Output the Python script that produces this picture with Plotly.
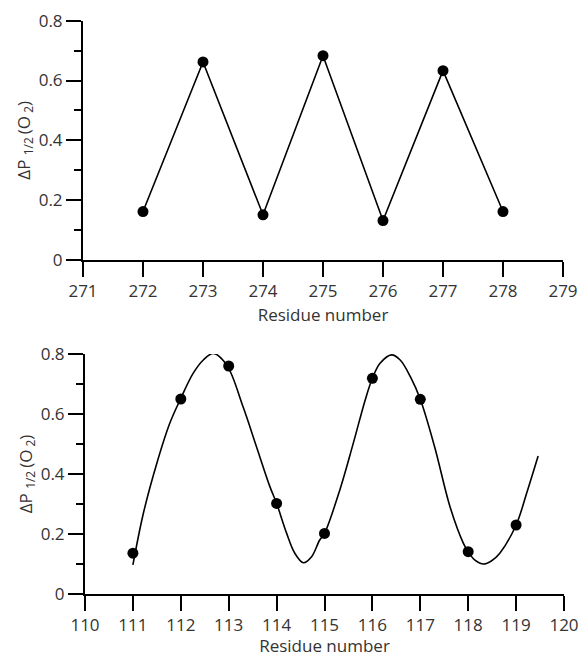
import plotly.graph_objects as go

# ---- data: top panel (residues 271-279) ----
top_residue = [272, 273, 274, 275, 276, 277, 278]
top_dp = [0.162, 0.662, 0.151, 0.683, 0.132, 0.633, 0.162]

# ---- data: bottom panel (residues 110-120) ----
bot_residue = [111, 112, 113, 114, 115, 116, 117, 118, 119]
bot_dp = [0.136, 0.650, 0.760, 0.302, 0.202, 0.719, 0.649, 0.141, 0.230]

# fitted curve
fit_x = [111.0, 111.22, 111.5, 111.77, 112.0, 112.26, 112.47, 112.68, 112.96, 113.3,
         113.58, 113.86, 114.0, 114.21, 114.38, 114.56, 114.73, 114.9, 115.0, 115.32,
         115.6, 115.85, 116.0, 116.16, 116.4, 116.58, 116.8, 117.0, 117.3, 117.62,
         117.9, 118.0, 118.14, 118.32, 118.49, 118.66, 119.0, 119.22, 119.46]
fit_y = [0.097, 0.27, 0.436, 0.569, 0.652, 0.736, 0.780, 0.802, 0.763, 0.624,
         0.491, 0.358, 0.302, 0.202, 0.136, 0.104, 0.124, 0.180, 0.202, 0.347,
         0.502, 0.647, 0.719, 0.769, 0.797, 0.780, 0.722, 0.649, 0.490, 0.291,
         0.169, 0.141, 0.113, 0.100, 0.111, 0.136, 0.230, 0.336, 0.460]

top_xticks = [271, 272, 273, 274, 275, 276, 277, 278, 279]
bot_xticks = [110, 111, 112, 113, 114, 115, 116, 117, 118, 119, 120]
y_ticks = [0, 0.2, 0.4, 0.6, 0.8]
y_ticktext = ["0", "0.2", "0.4", "0.6", "0.8"]

x_title = "Residue number"
y_title = "ΔP <sub>1/2 </sub>(O<sub> 2</sub>)"

FONT = dict(family="Open Sans", size=17, color="#333333")

fig = go.Figure()
fig.add_trace(go.Scatter(x=top_residue, y=top_dp, mode="lines+markers",
                         line=dict(color="black", width=1.6),
                         marker=dict(color="black", size=11),
                         xaxis="x", yaxis="y", cliponaxis=False, showlegend=False))
fig.add_trace(go.Scatter(x=fit_x, y=fit_y, mode="lines",
                         line=dict(color="black", width=1.6, shape="spline", smoothing=1.0),
                         xaxis="x2", yaxis="y2", cliponaxis=False, showlegend=False))
fig.add_trace(go.Scatter(x=bot_residue, y=bot_dp, mode="markers",
                         marker=dict(color="black", size=11),
                         xaxis="x2", yaxis="y2", cliponaxis=False, showlegend=False))

H = 574.0
def xa(domain, rng, ticks, standoff):
    return dict(domain=domain, range=rng, tickvals=ticks, ticks="outside", ticklen=15,
                tickwidth=2, tickcolor="black", showline=True, linewidth=2, linecolor="black",
                showgrid=False, zeroline=False, tickfont=FONT, automargin=False,
                title=dict(text=x_title, font=FONT, standoff=standoff))

def ya(domain):
    return dict(domain=domain, range=[0, 0.8], tickvals=y_ticks, ticktext=y_ticktext,
                ticks="outside", ticklen=15, tickwidth=2, tickcolor="black",
                showline=True, linewidth=2, linecolor="black", automargin=False,
                showgrid=False, zeroline=False, tickfont=FONT,
                minor=dict(ticks="outside", ticklen=7, tickwidth=2, tickcolor="black",
                           dtick=0.1, tick0=0, showgrid=False),
                title=dict(text=y_title, font=FONT, standoff=4))

fig.update_layout(
    width=588, height=657,
    margin=dict(l=83, r=24, t=20, b=63),
    paper_bgcolor="white", plot_bgcolor="white",
    font=FONT,
    xaxis=dict(xa([0, 480 / 481], [271, 279], top_xticks, 8), anchor="y"),
    yaxis=dict(ya([(594 - 260) / H, (594 - 20.7) / H]), anchor="x"),
    xaxis2=dict(xa([2 / 481, 1], [110, 120], bot_xticks, 3), anchor="y2"),
    yaxis2=dict(ya([0, (594 - 354) / H]), anchor="x2"),
)

fig.write_html("out.html")
